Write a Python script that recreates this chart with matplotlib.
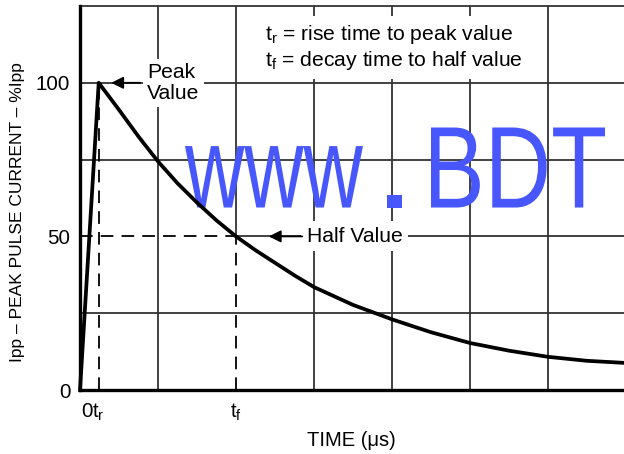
import matplotlib
matplotlib.use("Agg")
import matplotlib.pyplot as plt
from matplotlib.font_manager import FontProperties
from matplotlib.patches import PathPatch
from matplotlib.textpath import TextPath
from matplotlib.transforms import Affine2D

plt.rcParams["font.family"] = ["Liberation Sans", "DejaVu Sans"]
plt.rcParams["mathtext.fontset"] = "custom"
plt.rcParams["mathtext.rm"] = "Liberation Sans"
plt.rcParams["mathtext.it"] = "Liberation Sans:italic"

# pulse waveform (time in grid units, % of Ipp)
T_R = 0.24
T_F = 2.0
time = [0, 0.24, 0.5, 0.75, 1.0, 1.25, 1.5, 1.75, 2.0, 2.25, 2.5, 2.75, 3.0,
        3.5, 4.0, 4.5, 5.0, 5.5, 6.0, 6.5, 7.0]
current = [0, 100, 91.2, 82.5, 74.4, 67.3, 61, 55.2, 50, 45.5, 41.4, 37.3, 33.5,
           27.7, 23, 18.8, 15.3, 12.8, 10.8, 9.5, 8.8]

grid_x = [1, 2, 3, 4, 5, 6]
grid_y = [25, 50, 75, 100]
y_ticks = [0, 50, 100]
y_labels = ["0", "50", "100"]

GRID = "#333333"
BLUE = "#4757fc"

fig = plt.figure(figsize=(6.24, 4.54), dpi=100)
ax = fig.add_axes([80 / 624, 64 / 454, 546 / 624, 384 / 454])
ax.set_xlim(0, 7)
ax.set_ylim(0, 125)

# grid (the 50% line and the t_f line turn dashed where they meet the curve)
for gx in grid_x:
    if gx == T_F:
        ax.vlines(gx, 50, 125, color=GRID, lw=1.3, zorder=1)
    else:
        ax.axvline(gx, color=GRID, lw=1.3, zorder=1)
for gy in grid_y:
    if gy == 50:
        ax.hlines(gy, T_F, 7, color=GRID, lw=1.3, zorder=1)
    else:
        ax.axhline(gy, color=GRID, lw=1.3, zorder=1)

dash = dict(color="black", lw=1.3, dashes=(7, 4.5), zorder=2)
ax.plot([T_R, T_R], [0, 100], **dash)
ax.plot([T_F, T_F], [0, 50], **dash)
ax.plot([0, T_F], [50, 50], **dash)

# watermark, each piece squeezed into its own box
wm_font = FontProperties(family=["Liberation Sans Narrow", "Liberation Sans"])
sy = 27.6 / 0.729
for piece, x0, x1 in [("www", 1.346, 3.628), (".", 3.936, 4.128), ("BDT", 4.50, 6.731)]:
    p = TextPath((0, 0), piece, size=1, prop=wm_font)
    ext = p.get_extents()
    tr = Affine2D().translate(-ext.x0, 0).scale((x1 - x0) / ext.width, sy).translate(x0, 59.4)
    ax.add_patch(PathPatch(tr.transform_path(p), fc=BLUE, ec="none", zorder=3))

ax.plot(time, current, color="black", lw=2.7, solid_joinstyle="round", zorder=4,
        clip_on=False)

ax.text(0.86, 100, "Peak\nValue", fontsize=15.2, va="center", ha="left",
        multialignment="left", linespacing=1.1,
        bbox=dict(fc="white", ec="none", pad=3), zorder=5)
ax.annotate("", xy=(0.40, 100), xytext=(0.77, 100),
            arrowprops=dict(arrowstyle="-|>", color="black", lw=1.3,
                            mutation_scale=18, shrinkA=0, shrinkB=0), zorder=5)
ax.text(2.91, 50, "Half Value", fontsize=15.2, va="center", ha="left",
        bbox=dict(fc="white", ec="none", pad=4), zorder=5)
ax.annotate("", xy=(2.42, 50), xytext=(2.85, 50),
            arrowprops=dict(arrowstyle="-|>", color="black", lw=1.3,
                            mutation_scale=18, shrinkA=0, shrinkB=0), zorder=5)
ax.text(2.37, 111.4, "$\\mathrm{t_r}$ = rise time to peak value\n"
        "$\\mathrm{t_f}$ = decay time to half value",
        fontsize=15.2, va="center", ha="left", linespacing=1.2,
        bbox=dict(fc="white", ec="none", pad=5), zorder=5)

# axes frame
for side in ["left", "bottom"]:
    ax.spines[side].set_linewidth(2.4)
    ax.spines[side].set_zorder(6)
ax.spines["top"].set_linewidth(1.3)
ax.spines["top"].set_color(GRID)
ax.spines["right"].set_visible(False)

ax.set_yticks(y_ticks)
ax.set_yticklabels(y_labels, fontsize=14.8)
ax.tick_params(axis="y", length=0, pad=7)
ax.set_xticks([])
xt = ax.get_xaxis_transform()
ax.text(0.015, -0.03, "0", transform=xt, fontsize=14.8, ha="left", va="top")
ax.text(T_R, -0.03, "$\\mathrm{t_r}$", transform=xt, fontsize=14.8, ha="center", va="top")
ax.text(T_F, -0.03, "$\\mathrm{t_f}$", transform=xt, fontsize=14.8, ha="center", va="top")

fig.text(351 / 624, 1 - 440 / 454, "TIME (\u03bcs)", fontsize=14.5, ha="center", va="center")
fig.text(18 / 624, 1 - 212 / 454, "Ipp \u2013 PEAK PULSE CURRENT \u2013 %Ipp", fontsize=12.5,
         rotation=90, ha="center", va="center")

fig.savefig("out.png", dpi=100)
